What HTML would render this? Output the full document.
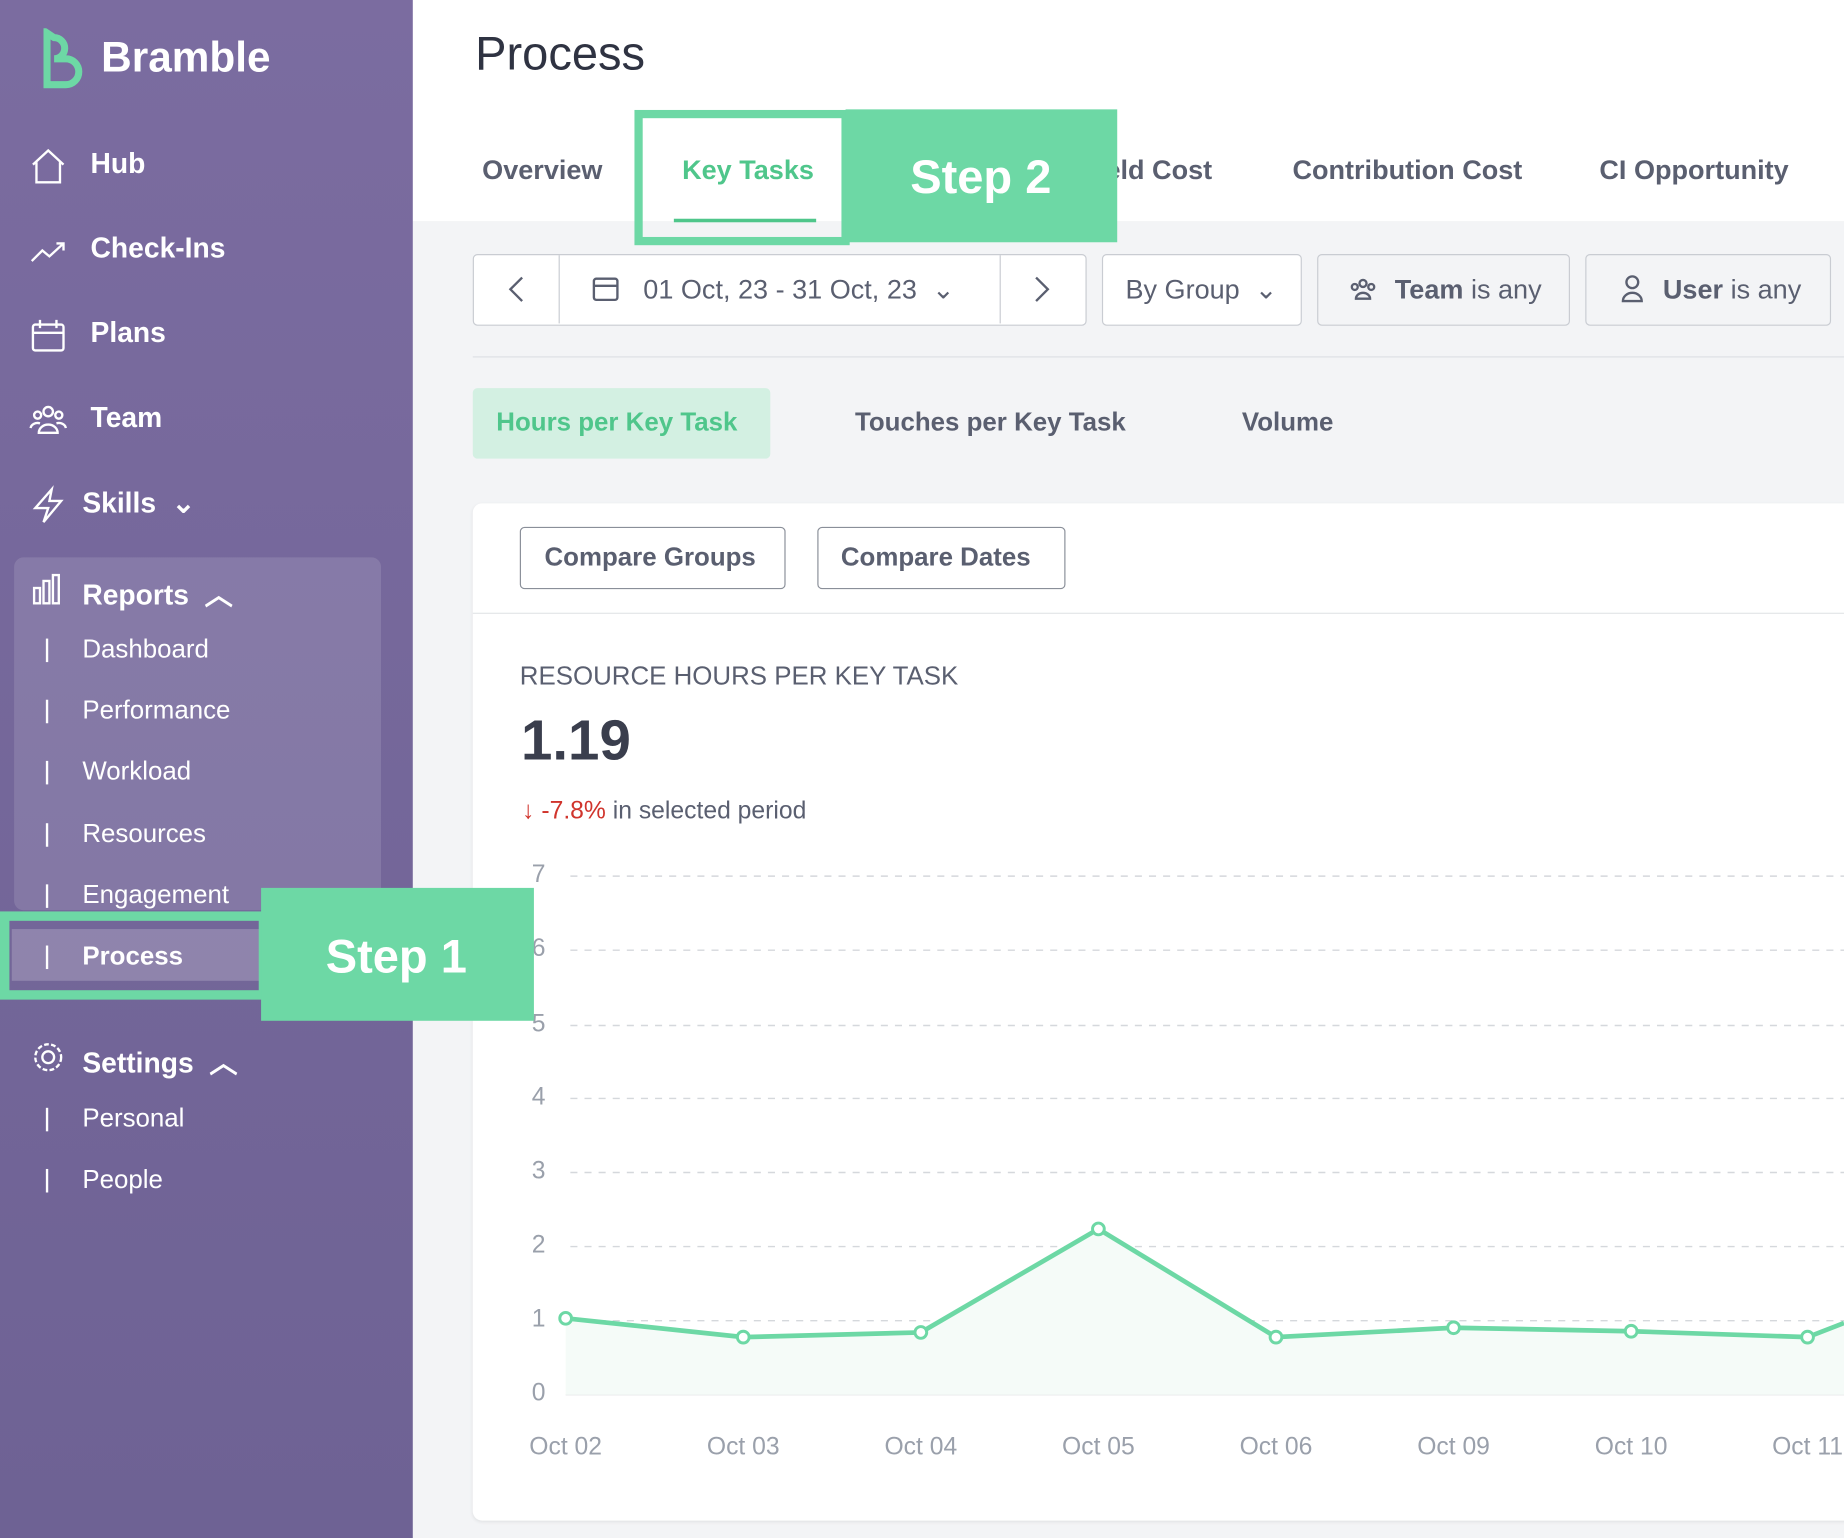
<!DOCTYPE html>
<html><head><meta charset="utf-8"><style>
html,body{margin:0;padding:0;width:1844px;height:1538px;overflow:hidden;background:#f3f4f6}
#w{position:absolute;left:0;top:0;width:1568px;height:1308px;transform:scale(1.17602);transform-origin:0 0;font-family:"Liberation Sans",sans-serif;overflow:hidden}
.a{position:absolute;white-space:nowrap}
.sb{position:absolute;left:0;top:0;width:351px;height:1308px;background:linear-gradient(180deg,#7b6ca0,#6e6294)}
.nav{color:#fff;font-size:24px;font-weight:bold}
.sub{color:#fff;font-size:22px}
.bar{position:absolute;left:39px;width:2px;height:20px;background:#fff}
.box{position:absolute;border:1px solid #c9ccd2;border-radius:4px;background:#fff}
.g{color:#5a5f70}
</style></head><body><div id="w">
<div class="a" style="left:351px;top:0;width:1217px;height:188px;background:#fff"></div>
<div class="sb"></div>
<svg class="a" style="left:34px;top:24px" width="40" height="54" viewBox="0 0 40 54"><path d="M6 4 v44 h16 a11 11 0 0 0 0-22 h-10 a9 9 0 0 0 0-18 z" fill="none" stroke="#6dd8a5" stroke-width="6"/></svg>
<div class="a" style="left:86px;top:28px;color:#fff;font-size:36px;font-weight:bold">Bramble</div>
<svg class="a" style="left:0;top:0" width="351" height="1308" fill="none" stroke="#fff" stroke-width="2">
<path d="M28 140 L41 128 L54 140 M31 138 V155 H51 V138"/>
<path d="M27 222 L36 213 L42 218 L54 207 M48 207 H54 V213"/>
<rect x="28" y="276" width="26" height="22" rx="2"/><line x1="28" y1="283" x2="54" y2="283"/><line x1="34" y1="272" x2="34" y2="279"/><line x1="48" y1="272" x2="48" y2="279"/>
<circle cx="41" cy="350" r="4"/><circle cx="32" cy="353" r="3"/><circle cx="50" cy="353" r="3"/><path d="M33 368 a8 7 0 0 1 16 0 z M26 364 a6 5 0 0 1 8 -4 M56 364 a6 5 0 0 0 -8 -4"/>
<path d="M44 416 L30 432 H41 L37 444 L52 426 H42 Z"/>
<rect x="29" y="500" width="5" height="13"/><rect x="37" y="494" width="5" height="19"/><rect x="45" y="489" width="5" height="24"/>
<circle cx="41" cy="899" r="5"/><circle cx="41" cy="899" r="11" stroke-dasharray="4 2"/>
</svg>
<div class="a nav" style="left:77px;top:126px">Hub</div>
<div class="a nav" style="left:77px;top:198px">Check-Ins</div>
<div class="a nav" style="left:77px;top:270px">Plans</div>
<div class="a nav" style="left:77px;top:342px">Team</div>
<div class="a nav" style="left:70px;top:414px">Skills &nbsp;⌄</div>
<div class="a" style="left:12px;top:474px;width:312px;height:300px;background:rgba(255,255,255,.12);border-radius:8px"></div>
<div class="a nav" style="left:70px;top:486px">Reports &nbsp;︿</div>
<div class="a sub" style="left:70px;top:539px">Dashboard</div><div class="bar" style="top:543px"></div>
<div class="a sub" style="left:70px;top:591px">Performance</div><div class="bar" style="top:595px"></div>
<div class="a sub" style="left:70px;top:643px">Workload</div><div class="bar" style="top:647px"></div>
<div class="a sub" style="left:70px;top:696px">Resources</div><div class="bar" style="top:700px"></div>
<div class="a sub" style="left:70px;top:748px">Engagement</div><div class="bar" style="top:752px"></div>
<div class="a" style="left:10px;top:790px;width:212px;height:44px;background:rgba(255,255,255,.2)"></div>
<div class="a sub" style="left:70px;top:800px;font-weight:bold">Process</div><div class="bar" style="top:804px"></div>
<div class="a nav" style="left:70px;top:884px">Settings &nbsp;︿</div>
<div class="a sub" style="left:70px;top:938px">Personal</div><div class="bar" style="top:942px"></div>
<div class="a sub" style="left:70px;top:990px">People</div><div class="bar" style="top:994px"></div>

<div class="a" style="left:404px;top:24px;font-size:40px;color:#2f3342">Process</div>
<div class="a g" style="left:410px;top:131px;font-size:23px;font-weight:bold">Overview</div>
<div class="a" style="left:580px;top:131px;font-size:23px;font-weight:bold;color:#4fc68b">Key Tasks</div>
<div class="a" style="left:573px;top:186px;width:121px;height:3px;background:#4fc68b"></div>
<div class="a g" style="left:940px;top:131px;font-size:23px;font-weight:bold">eld Cost</div>
<div class="a g" style="left:1099px;top:131px;font-size:23px;font-weight:bold">Contribution Cost</div>
<div class="a g" style="left:1360px;top:131px;font-size:23px;font-weight:bold">CI Opportunity</div>

<div class="box" style="left:402px;top:216px;width:520px;height:59px"></div>
<div class="a" style="left:475px;top:217px;width:1px;height:58px;background:#c9ccd2"></div>
<div class="a" style="left:850px;top:217px;width:1px;height:58px;background:#c9ccd2"></div>
<svg class="a" style="left:0;top:0" width="1568" height="300" fill="none" stroke="#5a5f70" stroke-width="2">
<path d="M444 236 L434 246 L444 256"/><path d="M881 236 L891 246 L881 256"/>
<rect x="505" y="237" width="20" height="18" rx="2"/><line x1="505" y1="243" x2="525" y2="243"/>
<circle cx="1159" cy="241" r="3"/><circle cx="1152" cy="244" r="2.5"/><circle cx="1166" cy="244" r="2.5"/><path d="M1153 254 a6 5 0 0 1 12 0 z"/>
<circle cx="1388" cy="240" r="5"/><path d="M1380 256 a8 7 0 0 1 16 0 z"/>
</svg>
<div class="a g" style="left:547px;top:233px;font-size:23px">01 Oct, 23 - 31 Oct, 23 &nbsp;⌄</div>
<div class="box" style="left:937px;top:216px;width:168px;height:59px"></div>
<div class="a g" style="left:957px;top:233px;font-size:23px">By Group &nbsp;⌄</div>
<div class="box" style="left:1120px;top:216px;width:213px;height:59px;background:transparent"></div>
<div class="a g" style="left:1186px;top:233px;font-size:23px"><b>Team</b> is any</div>
<div class="box" style="left:1348px;top:216px;width:207px;height:59px;background:transparent"></div>
<div class="a g" style="left:1414px;top:233px;font-size:23px"><b>User</b> is any</div>
<div class="a" style="left:402px;top:303px;width:1166px;height:1px;background:#dde0e4"></div>

<div class="a" style="left:402px;top:330px;width:253px;height:60px;background:#d3f0e2;border-radius:4px"></div>
<div class="a" style="left:422px;top:346px;font-size:22px;font-weight:bold;color:#4fc68b">Hours per Key Task</div>
<div class="a g" style="left:727px;top:346px;font-size:22px;font-weight:bold">Touches per Key Task</div>
<div class="a g" style="left:1056px;top:346px;font-size:22px;font-weight:bold">Volume</div>

<div class="a" style="left:402px;top:428px;width:1180px;height:865px;background:#fff;border-radius:8px;box-shadow:0 1px 3px rgba(0,0,0,.08)"></div>
<div class="box" style="left:442px;top:448px;width:224px;height:51px;border-color:#8a8f99"></div>
<div class="a g" style="left:463px;top:461px;font-size:22px;font-weight:bold">Compare Groups</div>
<div class="box" style="left:695px;top:448px;width:209px;height:51px;border-color:#8a8f99"></div>
<div class="a g" style="left:715px;top:461px;font-size:22px;font-weight:bold">Compare Dates</div>
<div class="a" style="left:402px;top:521px;width:1166px;height:1px;background:#e3e5e8"></div>
<div class="a g" style="left:442px;top:562px;font-size:22px">RESOURCE HOURS PER KEY TASK</div>
<div class="a" style="left:443px;top:603px;font-size:48px;font-weight:bold;color:#3a3e4d">1.19</div>
<div class="a" style="left:444px;top:678px;font-size:21px;color:#5a5f70"><span style="color:#d0342c">↓ -7.8%</span> in selected period</div>

<svg class="a" style="left:0;top:0" width="1568" height="1308">
<g stroke="#d5d8dc" stroke-dasharray="6,6" stroke-width="1.2">
<line x1="485" y1="745" x2="1568" y2="745"/><line x1="485" y1="808" x2="1568" y2="808"/><line x1="485" y1="872" x2="1568" y2="872"/><line x1="485" y1="934" x2="1568" y2="934"/><line x1="485" y1="997" x2="1568" y2="997"/><line x1="485" y1="1060" x2="1568" y2="1060"/><line x1="485" y1="1123" x2="1568" y2="1123"/></g>
<line x1="481" y1="1186" x2="1568" y2="1186" stroke="#e0e2e5"/>
<g font-family="Liberation Sans" font-size="21" fill="#9aa0ab" text-anchor="middle">
<text x="458" y="750">7</text><text x="458" y="813">6</text><text x="458" y="877">5</text><text x="458" y="939">4</text><text x="458" y="1002">3</text><text x="458" y="1065">2</text><text x="458" y="1128">1</text><text x="458" y="1191">0</text>
<text x="481" y="1237">Oct 02</text><text x="632" y="1237">Oct 03</text><text x="783" y="1237">Oct 04</text><text x="934" y="1237">Oct 05</text><text x="1085" y="1237">Oct 06</text><text x="1236" y="1237">Oct 09</text><text x="1387" y="1237">Oct 10</text><text x="1537" y="1237">Oct 11</text></g>
<path d="M481 1121 L632 1137 L783 1133 L934 1045 L1085 1137 L1236 1129 L1387 1132 L1537 1137 L1568 1125 L1568 1186 L481 1186Z" fill="#f5fbf8"/>
<polyline points="481,1121 632,1137 783,1133 934,1045 1085,1137 1236,1129 1387,1132 1537,1137 1568,1125" fill="none" stroke="#6dd8a5" stroke-width="4"/>
<g fill="#fff" stroke="#6dd8a5" stroke-width="2.5"><circle cx="481" cy="1121" r="5"/><circle cx="632" cy="1137" r="5"/><circle cx="783" cy="1133" r="5"/><circle cx="934" cy="1045" r="5"/><circle cx="1085" cy="1137" r="5"/><circle cx="1236" cy="1129" r="5"/><circle cx="1387" cy="1132" r="5"/><circle cx="1537" cy="1137" r="5"/></g>
<rect x="4" y="779" width="220" height="67" fill="none" stroke="#6dd8a5" stroke-width="8"/>
<rect x="222" y="755" width="232" height="113" fill="#6dd8a5"/>
<text x="337" y="827" text-anchor="middle" font-family="Liberation Sans" font-weight="bold" font-size="40" fill="#fff">Step 1</text>
<rect x="543" y="97" width="176" height="108" fill="none" stroke="#6dd8a5" stroke-width="7"/>
<rect x="719" y="93" width="231" height="113" fill="#6dd8a5"/>
<text x="834" y="164" text-anchor="middle" font-family="Liberation Sans" font-weight="bold" font-size="40" fill="#fff">Step 2</text>
</svg>
</div></body></html>
